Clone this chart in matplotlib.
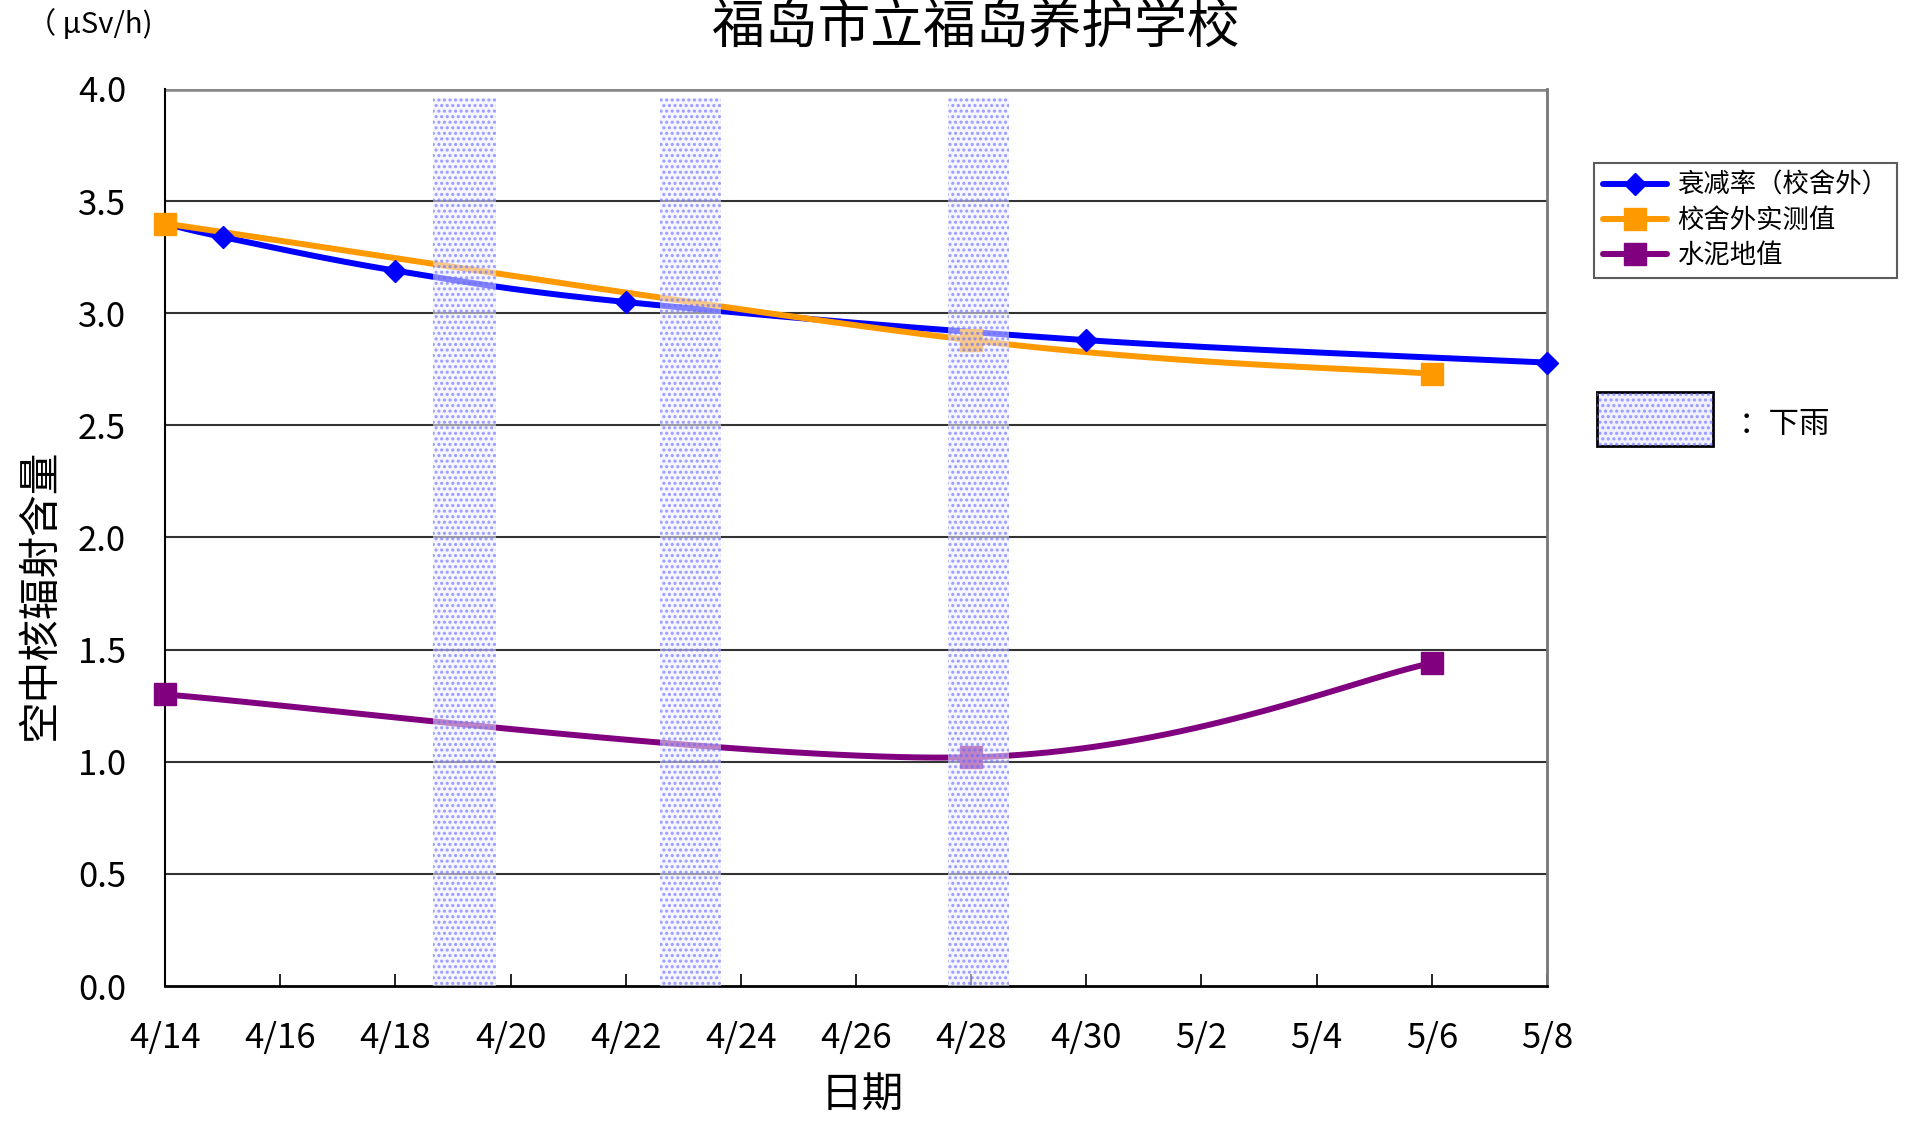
import numpy as np
import matplotlib.pyplot as plt
from matplotlib.patches import Rectangle

plt.rcParams['font.family'] = ['Noto Sans CJK SC', 'DejaVu Sans']
plt.rcParams['hatch.linewidth'] = 1.5

# x positions are days after 4/14
tick_days = list(range(0, 25, 2))
tick_labels = ['4/14', '4/16', '4/18', '4/20', '4/22', '4/24', '4/26',
               '4/28', '4/30', '5/2', '5/4', '5/6', '5/8']

decay_days = [0, 1, 4, 8, 16, 24]
decay_vals = [3.40, 3.34, 3.19, 3.05, 2.88, 2.78]

outside_days = [0, 14, 22]
outside_vals = [3.40, 2.88, 2.73]

cement_days = [0, 14, 22]
cement_vals = [1.30, 1.02, 1.44]

# rainy periods (start, end) in days
rain_spans = [(4.65, 5.75), (8.6, 9.65), (13.6, 14.65)]


def smooth(xs, ys, n=40):
    # excel style smoothed line (catmull-rom bezier)
    P = np.column_stack([xs, ys]).astype(float)
    out = []
    for i in range(len(P) - 1):
        p0 = P[i - 1] if i > 0 else P[i]
        p1 = P[i]
        p2 = P[i + 1]
        p3 = P[i + 2] if i + 2 < len(P) else P[i + 1]
        c1 = p1 + (p2 - p0) / 6.0
        c2 = p2 - (p3 - p1) / 6.0
        t = np.linspace(0, 1, n)[:, None]
        seg = ((1 - t) ** 3) * p1 + 3 * ((1 - t) ** 2) * t * c1 + 3 * (1 - t) * t ** 2 * c2 + t ** 3 * p2
        out.append(seg)
    out = np.vstack(out)
    return out[:, 0], out[:, 1]


fig = plt.figure(figsize=(19.21, 11.22), dpi=100)
ax = fig.add_axes([0.0859, 0.1212, 0.7194, 0.7995])

ax.set_xlim(0, 24)
ax.set_ylim(0, 4.0)

for y in np.arange(0.5, 4.0, 0.5):
    ax.axhline(y, color='#333333', lw=1.5, zorder=1)
ax.axhline(4.0, color='#888888', lw=4, zorder=1)

series = [
    (decay_days, decay_vals, '#0000ff', 'D', 11.5, '衰减率（校舍外）'),
    (outside_days, outside_vals, '#ff9900', 's', 16, '校舍外实测值'),
    (cement_days, cement_vals, '#800080', 's', 16, '水泥地值'),
]
handles = []
for k, (xs, ys, col, mk, ms, lab) in enumerate(series):
    sx, sy = smooth(xs, ys)
    ax.plot(sx, sy, color=col, lw=4.3, zorder=3, solid_capstyle='round', clip_on=False)
    ax.plot(xs, ys, ls='none', marker=mk, color=col, ms=ms, zorder=4 + 0.1 * k, clip_on=False)
    h, = ax.plot([], [], color=col, lw=4.3, marker=mk, ms=ms, solid_capstyle='round')
    handles.append(h)

for a, b in rain_spans:
    ax.axvspan(a, b, ymin=0, ymax=0.99, facecolor=(0.94, 0.94, 1.0, 0.55),
               edgecolor=(0.4, 0.4, 1.0, 0.6), hatch='...', lw=0, zorder=5)

ax.set_xticks(tick_days)
ax.set_xticklabels(tick_labels, fontsize=25)
ax.set_yticks(np.arange(0, 4.01, 0.5))
ax.set_yticklabels(['%.1f' % v for v in np.arange(0, 4.01, 0.5)], fontsize=25)
ax.tick_params(axis='x', direction='in', length=9, width=1.2, pad=25)
ax.tick_params(axis='y', length=0, pad=28)

ax.spines['left'].set_color('black')
ax.spines['left'].set_linewidth(1.5)
ax.spines['bottom'].set_color('black')
ax.spines['bottom'].set_linewidth(2)
ax.spines['right'].set_color('#777777')
ax.spines['right'].set_linewidth(2)
ax.spines['top'].set_visible(False)

fig.text(0.508, 0.976, '福岛市立福岛养护学校', fontsize=38, ha='center', va='center')
fig.text(0.014, 0.978, '（ μSv/h)', fontsize=21, ha='left', va='center')
fig.text(0.021, 0.47, '空中核辐射含量', fontsize=30, rotation=90, ha='center', va='center')
fig.text(0.449, 0.023, '日期', fontsize=30, ha='center', va='center')

leg = ax.legend(handles, [s[5] for s in series], loc='upper left',
                bbox_to_anchor=(0.8298, 0.855), bbox_transform=fig.transFigure,
                fontsize=19, frameon=True, fancybox=False, handlelength=2.4,
                borderpad=0.35, labelspacing=0.3, handletextpad=0.4,
                borderaxespad=0)
leg.get_frame().set_edgecolor('#333333')
leg.get_frame().set_linewidth(1.5)

fig.patches.append(Rectangle((0.8313, 0.6025), 0.0604, 0.048, transform=fig.transFigure,
                             facecolor=(0.94, 0.94, 1.0), edgecolor='black', lw=2))
fig.patches.append(Rectangle((0.8313, 0.6025), 0.0604, 0.048, transform=fig.transFigure,
                             facecolor='none', edgecolor=(0.4, 0.4, 1.0, 0.6), hatch='...', lw=0))
fig.text(0.905, 0.622, '：下雨', fontsize=22, ha='left', va='center')

fig.savefig('out.png', dpi=100)
